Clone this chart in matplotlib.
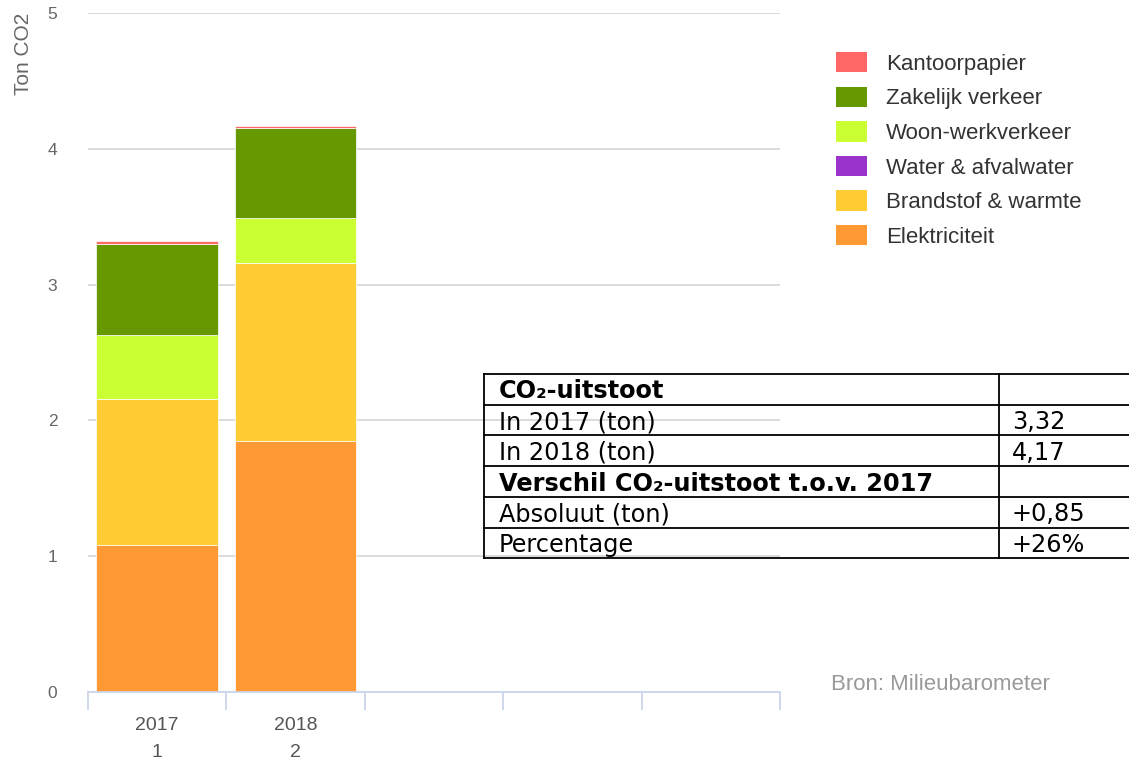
import matplotlib.pyplot as plt
from matplotlib.patches import Patch
import numpy as np

plt.rcParams['font.family'] = ['Liberation Sans', 'DejaVu Sans']

# data
categories = ['2017\n1', '2018\n2', '', '', '']
series_names = ['Elektriciteit', 'Brandstof & warmte', 'Water & afvalwater',
                'Woon-werkverkeer', 'Zakelijk verkeer', 'Kantoorpapier']
series_colors = ['#ff9933', '#ffcc33', '#9933cc', '#ccff33', '#669900', '#ff6666']
elektriciteit = [1.08, 1.85]
brandstof = [1.08, 1.31]
water = [0.0, 0.0]
woon_werk = [0.47, 0.33]
zakelijk = [0.67, 0.66]
kantoorpapier = [0.02, 0.02]
series_values = [elektriciteit, brandstof, water, woon_werk, zakelijk, kantoorpapier]

table_labels = ['CO\u2082-uitstoot', 'In 2017 (ton)', 'In 2018 (ton)',
                'Verschil CO\u2082-uitstoot t.o.v. 2017', 'Absoluut (ton)', 'Percentage']
table_values = ['', '3,32', '4,17', '', '+0,85', '+26%']
table_bold = [True, False, False, True, False, False]

W, H = 1129, 760
fig = plt.figure(figsize=(W / 100, H / 100), dpi=100)
ax = fig.add_axes([88 / W, (H - 692) / H, (780 - 88) / W, (692 - 13) / H])

x = np.arange(len(categories))
bottom = np.zeros(len(elektriciteit))
for name, vals, col in zip(series_names, series_values, series_colors):
    ax.bar(x[:len(vals)], vals, width=0.88, bottom=bottom, color=col,
           edgecolor='white', linewidth=0.5, label=name, zorder=3)
    bottom += np.array(vals)

ax.set_xlim(-0.5, len(categories) - 0.5)
ax.set_ylim(0, 5)
ax.set_yticks(range(0, 6))
ax.yaxis.grid(True, color='#d8d8d8', linewidth=1.3, zorder=0)
ax.tick_params(axis='y', length=0, pad=22, labelsize=12.5, labelcolor='#666666')
for s in ['top', 'right', 'left']:
    ax.spines[s].set_visible(False)
ax.spines['bottom'].set_color('#ccd6eb')
ax.spines['bottom'].set_linewidth(1.3)
ax.spines['bottom'].set_zorder(4)

ax.set_xticks(x)
ax.set_xticklabels(categories, fontsize=14, color='#555555', linespacing=1.75)
ax.tick_params(axis='x', which='major', length=0, pad=18)
ax.set_xticks(np.arange(-0.5, len(categories)), minor=True)
ax.tick_params(axis='x', which='minor', length=13, width=1.3, color='#ccd6eb')

ax.set_ylabel('Ton CO2', loc='top', fontsize=15, color='#666666')
ax.yaxis.set_label_coords(-0.08, 1.0)

# legend (top item first)
handles = [Patch(facecolor=c, edgecolor='none') for c in series_colors][::-1]
fig.legend(handles, series_names[::-1], loc='upper left',
           bbox_to_anchor=(836 / W, 1 - 52 / H), frameon=False,
           fontsize=16, handlelength=1.4, handleheight=1.04,
           handletextpad=0.86, labelspacing=0.53, borderpad=0,
           labelcolor='#333333', borderaxespad=0)

fig.text(831 / W, 1 - 685 / H, 'Bron: Milieubarometer', fontsize=16,
         color='#999999', va='center', ha='left')

# table overlay
tax = fig.add_axes([0, 0, 1, 1])
tax.set_xlim(0, W)
tax.set_ylim(H, 0)
tax.axis('off')
t_left, t_right, t_top, t_split = 484, 1135, 374, 999
row_h = 30.7
n = len(table_labels)
for i in range(n + 1):
    yy = t_top + i * row_h
    tax.plot([t_left, t_right], [yy, yy], color='black', lw=1.3)
tax.plot([t_left, t_left], [t_top, t_top + n * row_h], color='black', lw=1.3)
tax.plot([t_split, t_split], [t_top, t_top + n * row_h], color='black', lw=1.3)
for i, (lab, val, b) in enumerate(zip(table_labels, table_values, table_bold)):
    yb = t_top + i * row_h + 24.5
    tax.text(499, yb, lab, fontsize=17.3, fontweight='bold' if b else 'normal',
             family='DejaVu Sans', va='baseline', ha='left', color='black')
    tax.text(1012, yb, val, fontsize=17.3, family='DejaVu Sans',
             va='baseline', ha='left', color='black')

fig.savefig('out.png', dpi=100)
